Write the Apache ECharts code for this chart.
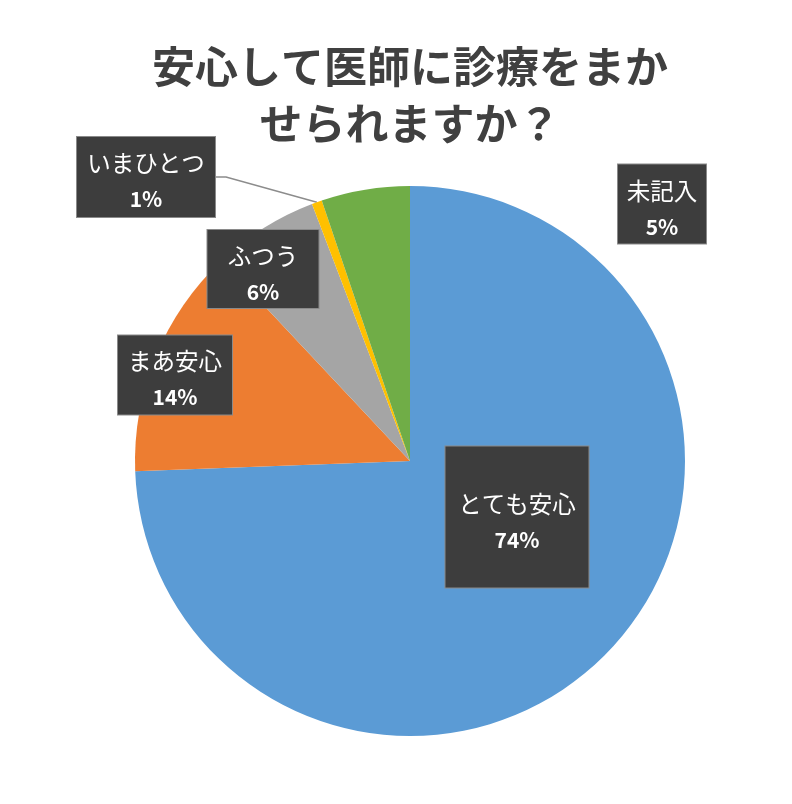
<!DOCTYPE html>
<html>
<head>
<meta charset="utf-8">
<script src="https://cdn.jsdelivr.net/npm/echarts@6/dist/echarts.min.js"></script>
<style>
html,body{margin:0;padding:0;background:#fff;}
#main{width:792px;height:804px;}
</style>
</head>
<body>
<div id="main"></div>
<script>
const titleText = '安心して医師に診療をまか\nせられますか？';
const categories = ['とても安心', 'まあ安心', 'ふつう', 'いまひとつ', '未記入'];
const values = [74.4, 13.6, 6.2, 0.6, 5.2];
const colors = ['#5B9BD5', '#ED7D31', '#A5A5A5', '#FFC000', '#70AD47'];

// label box styling (centers, sizes)
const labelCenters = [[517, 517], [175, 375], [263, 269], [146, 177], [662, 204]];
const labelWidths = [143, 114, 111, 138, 88];
const labelPads = [[38, 0, 31, 0], [6, 0, 1, 0], [6, 0, 0, 0], [6, 0, 2, 0], [7, 0, 0, 0]];

const chart = echarts.init(document.getElementById('main'));
const FONT = '"Noto Sans CJK JP", "Noto Sans", sans-serif';

const data = categories.map((n, i) => ({
  name: n,
  value: values[i],
  itemStyle: { color: colors[i] },
  label: { width: labelWidths[i], padding: labelPads[i] },
  labelLine: { show: i === 3 }
}));

chart.setOption({
  backgroundColor: '#ffffff',
  title: {
    text: titleText,
    left: 410,
    top: 38,
    textAlign: 'center',
    padding: 0,
    textStyle: {
      fontFamily: FONT,
      fontSize: 43,
      fontWeight: 'bold',
      color: '#404040',
      lineHeight: 57
    }
  },
  series: [{
    type: 'pie',
    center: [410, 461],
    radius: 275,
    startAngle: 90,
    clockwise: true,
    avoidLabelOverlap: false,
    animation: false,
    data: data,
    label: {
      show: true,
      position: 'outside',
      formatter: p => '{n|' + p.name + '}\n{p|' + Math.round(p.percent) + '%}',
      backgroundColor: '#3d3d3d',
      borderColor: '#8a8a8a',
      borderWidth: 1,
      align: 'center',
      rich: {
        n: { fontFamily: FONT, fontSize: 23.5, color: '#ffffff', lineHeight: 40, align: 'center' },
        p: { fontFamily: FONT, fontSize: 21, fontWeight: 'bold', color: '#ffffff', lineHeight: 32, align: 'center' }
      }
    },
    labelLine: {
      show: false,
      length: 10,
      length2: 10,
      lineStyle: { color: '#8c8c8c', width: 1.5 }
    },
    labelLayout: function (params) {
      const c = labelCenters[params.dataIndex];
      return { x: c[0], y: c[1], align: 'center', verticalAlign: 'middle' };
    }
  }]
});
</script>
</body>
</html>
